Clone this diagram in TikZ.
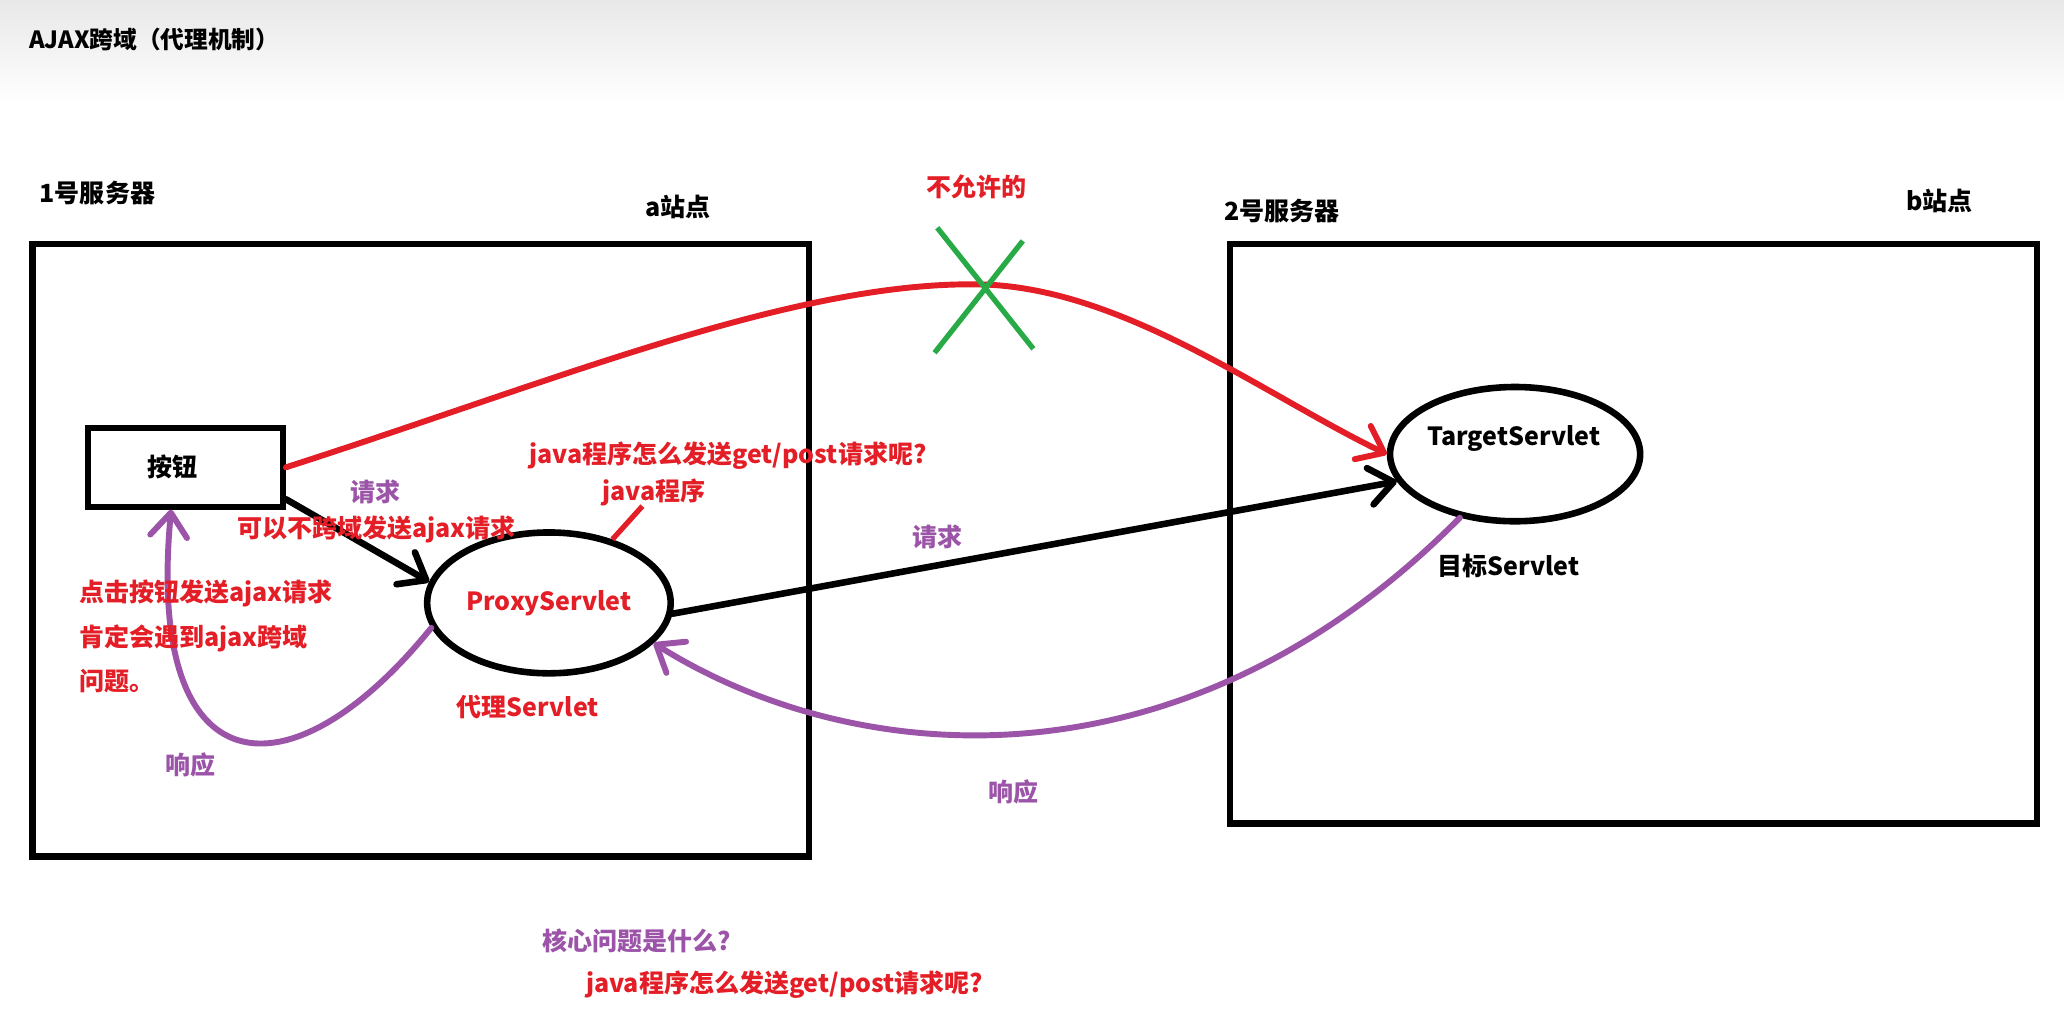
\documentclass[tikz,border=0pt]{standalone}
\usepackage{fontspec}
\setmainfont{Noto Sans CJK SC}
\usetikzlibrary{arrows.meta,shapes.geometric}
\definecolor{hongse}{RGB}{228,30,38}
\definecolor{zise}{RGB}{155,84,168}
\definecolor{lvse}{RGB}{40,170,70}

\begin{document}
\begin{tikzpicture}[x=1pt,y=-1pt,
        every node/.style={font=\fontsize{19}{23}\selectfont\bfseries,inner sep=0pt},
        server/.style={draw,line width=5pt,minimum width=#1},
        servlet/.style={draw,ellipse,line width=5pt},
        hand/.style={line width=4.5pt,line cap=round,line join=round,
            -{Straight Barb[length=18pt,width=28pt,round]}},
        redtext/.style={text=hongse},
        purpletext/.style={text=zise}]
        \fill[white] (0,0) rectangle (1568,781);
        \shade[top color=black!9,bottom color=white] (0,0) rectangle (1568,80);
        \useasboundingbox (0,0) rectangle (1568,781);
        \node[anchor=west,font=\fontsize{18}{22}\selectfont\bfseries] (title) at (22,30) {AJAX跨域（代理机制）};
        \node[server=590pt,minimum height=465pt] (serverA) at (319.5,418) {};
        \node[server=613pt,minimum height=440pt] (serverB) at (1241,405.5) {};
        \node[anchor=west] (s1) at (30,147) {1号服务器};
        \node[anchor=west] (sitea) at (490,157) {a站点};
        \node[anchor=west] (s2) at (930,160) {2号服务器};
        \node[anchor=west] (siteb) at (1448,153) {b站点};
        \node[draw,line width=4.5pt,minimum width=148pt,minimum height=60pt,
            label={[xshift=-10pt]center:按钮}] (btn) at (141,355) {};
        \node[servlet,minimum width=185pt,minimum height=107pt,redtext] (proxy) at (417,458) {ProxyServlet};
        \node[servlet,minimum width=190pt,minimum height=102pt] (target) at (1151,345) {};
        \node (targetname) at (1150,333) {TargetServlet};
        \node (targetcn) at (1146,430) {目标Servlet};
        \node[redtext] (proxycn) at (401,537) {代理Servlet};
        \node[redtext] (notallowed) at (742,142) {不允许的};
        \coordinate (peak) at (740,216);
        \draw[hand,hongse] (btn.east) .. controls (420,290) and (600,215) .. (peak)
            .. controls (850,216) and (960,300) .. (target.west);
        \draw[lvse,line width=4pt] (712,173) -- (785,265) (777,183) -- (710,268);
        \draw[hand,line width=5pt] ([yshift=8pt]btn.south east) -- (proxy.170);
        \draw[hand,line width=5pt] (proxy.-5) -- (target.193);
        \draw[hand,zise] (target.229) .. controls (900,605) and (650,585) .. (proxy.-21);
        \draw[hand,zise] (proxy.192) .. controls (220,610) and (110,600) .. ([xshift=-11pt]btn.south);
        \node[purpletext] (req1) at (285,374) {请求};
        \node[redtext] (noajax) at (286,402) {可以不跨域发送ajax请求};
        \node[redtext] (howq) at (553,346) {java程序怎么发送get/post请求呢?};
        \node[redtext] (javaprog) at (497,374) {java程序};
        \draw[hongse,line width=4pt] ([xshift=-9pt]javaprog.south) -- (proxy.45);
        \node[purpletext] (req2) at (712,408) {请求};
        \node[purpletext] (resp1) at (145,581) {响应};
        \node[purpletext] (resp2) at (770,602) {响应};
        \node[redtext,anchor=west] (hint1) at (60,451) {点击按钮发送ajax请求};
        \node[redtext,anchor=west] (hint2) at (60,485) {肯定会遇到ajax跨域};
        \node[redtext,anchor=west] (hint3) at (60,517) {问题。};
        \node[purpletext,anchor=west] (core) at (412,715) {核心问题是什么?};
        \node[redtext,anchor=west] (howq2) at (445,748) {java程序怎么发送get/post请求呢?};
    \end{tikzpicture}
\end{document}
